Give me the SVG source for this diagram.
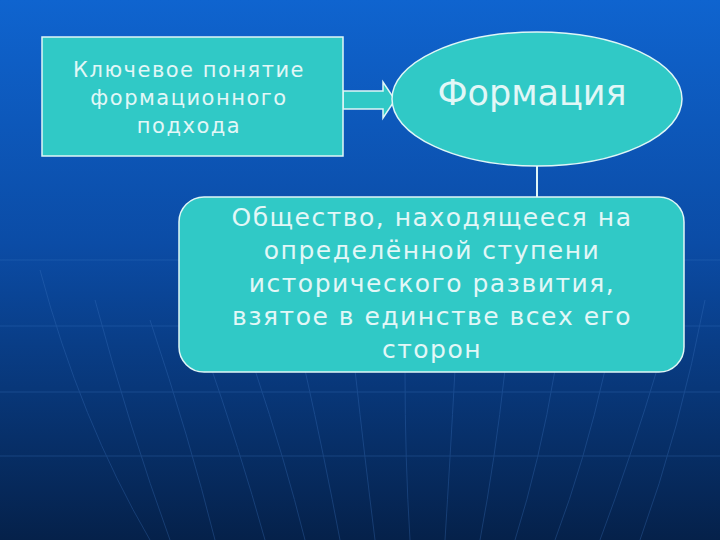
<svg xmlns="http://www.w3.org/2000/svg" width="720" height="540" viewBox="0 0 720 540">
<defs>
<linearGradient id="bg" x1="0" y1="0" x2="0" y2="1">
<stop offset="0" stop-color="#0f64cf"/>
<stop offset="0.45" stop-color="#0b4ca6"/>
<stop offset="1" stop-color="#05214a"/>
</linearGradient>
<style>
.shape{fill:#30c9c6;stroke:#dff6f6;stroke-width:1.5}
.t{fill:#e2f7f7;font-family:"DejaVu Sans","Verdana",sans-serif;text-anchor:middle}
.grid{fill:none;stroke:#3f78c4;stroke-width:1;opacity:0.3}
.conn{stroke:#dff6f6;stroke-width:2;fill:none}
</style>
</defs>
<rect width="720" height="540" fill="url(#bg)"/>
<g id="background-lines" class="grid">
<path d="M0 260 H720"/>
<path d="M0 326 H720"/>
<path d="M0 392 H720"/>
<path d="M0 456 H720"/>
<path d="M40 270 Q80 420 150 540"/>
<path d="M95 300 Q130 430 170 540"/>
<path d="M150 320 Q190 440 215 540"/>
<path d="M205 350 Q240 450 265 540"/>
<path d="M255 370 Q285 460 305 540"/>
<path d="M305 370 Q325 460 340 540"/>
<path d="M355 370 Q365 460 375 540"/>
<path d="M405 370 Q405 460 410 540"/>
<path d="M455 370 Q450 460 445 540"/>
<path d="M505 370 Q495 460 480 540"/>
<path d="M555 370 Q540 460 515 540"/>
<path d="M605 370 Q585 460 555 540"/>
<path d="M660 360 Q630 460 600 540"/>
<path d="M705 300 Q680 430 640 540"/>
</g>
<g id="connectors">
<path id="arrow" class="shape" d="M343 91 H383 V82 L395 100 L383 118 V109 H343 Z"/>
<line class="conn" x1="537" y1="166" x2="537" y2="197"/>
</g>
<g id="node-key">
<rect class="shape" x="42" y="37" width="301" height="119"/>
<text class="t" font-size="21" letter-spacing="1.5"><tspan x="189" y="77">Ключевое понятие</tspan><tspan x="189" y="105">формационного</tspan><tspan x="189" y="133">подхода</tspan></text>
</g>
<g id="node-formation">
<ellipse class="shape" cx="537" cy="99" rx="145" ry="67"/>
<text class="t" font-size="35" x="532" y="105">Формация</text>
</g>
<g id="node-definition">
<rect class="shape" x="179" y="197" width="505" height="175" rx="25" ry="25"/>
<text class="t" font-size="25" letter-spacing="1.5"><tspan x="432" y="226">Общество, находящееся на</tspan><tspan x="432" y="259">определённой ступени</tspan><tspan x="432" y="292">исторического развития,</tspan><tspan x="432" y="325">взятое в единстве всех его</tspan><tspan x="432" y="358">сторон</tspan></text>
</g>
</svg>
